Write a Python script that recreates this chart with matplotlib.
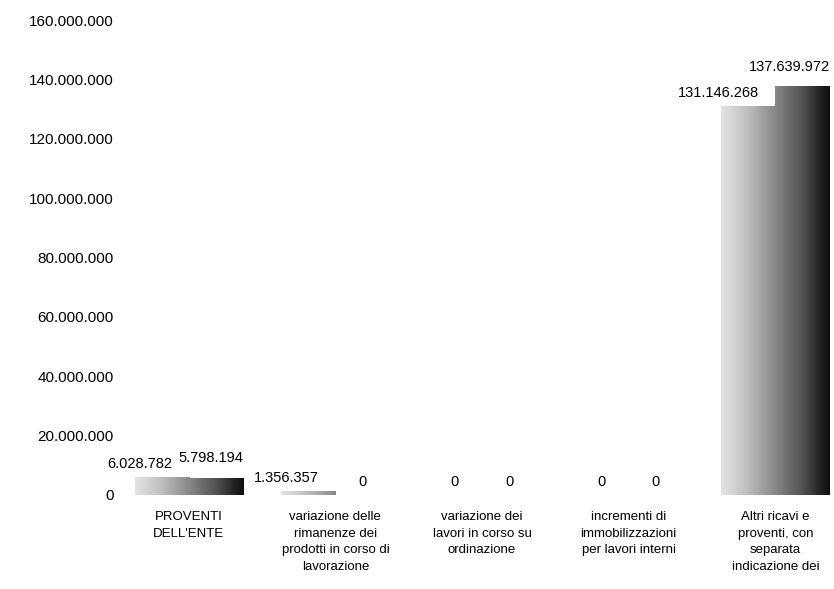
import numpy as np
import matplotlib
matplotlib.use("Agg")
import matplotlib.pyplot as plt

categories = [
    "PROVENTI\nDELL'ENTE",
    "variazione delle\nrimanenze dei\nprodotti in corso di\nlavorazione",
    "variazione dei\nlavori in corso su\nordinazione",
    "incrementi di\nimmobilizzazioni\nper lavori interni",
    "Altri ricavi e\nproventi, con\nseparata\nindicazione dei",
]
serie_a = [6028782, 1356357, 0, 0, 131146268]
serie_b = [5798194, 0, 0, 0, 137639972]
yticks = [0, 20000000, 40000000, 60000000, 80000000, 100000000, 120000000, 140000000, 160000000]


def fmt(v):
    return f"{v:,.0f}".replace(",", ".")


plt.rcParams['font.family'] = ['Liberation Sans', 'DejaVu Sans']

fig = plt.figure(figsize=(8.34, 5.89), dpi=100)
ax = fig.add_axes([0.156, 0.16, 0.844, 0.806])

x = np.arange(len(categories))
w = 0.37

bars_a = ax.bar(x - w / 2, serie_a, w, color="#b5b5b5", linewidth=0)
bars_b = ax.bar(x + w / 2, serie_b, w, color="#555555", linewidth=0)

# gradiente grigio (effetto retino della scansione)
for bars, lo, hi in ((bars_a, 0.2, 0.55), (bars_b, 0.55, 0.95)):
    for b in bars:
        if b.get_height() <= 0:
            continue
        x0, y0 = b.get_x(), b.get_y()
        grad = np.linspace(lo, hi, 64).reshape(1, -1)
        im = ax.imshow(grad, extent=[x0, x0 + b.get_width(), y0, y0 + b.get_height()],
                       cmap="Greys", vmin=0, vmax=1, aspect="auto", zorder=2)
        im.set_clip_path(b)

# etichette dei valori
fs_val = 10.5
for b, v in zip(bars_a, serie_a):
    if v == 0:
        ax.annotate(fmt(v), (b.get_x() + b.get_width() / 2, v), xytext=(0, 4),
                    textcoords="offset points", ha="center", va="bottom", fontsize=fs_val)
    else:
        ax.annotate(fmt(v), (b.get_x() + b.get_width() * 0.7, v), xytext=(0, 4),
                    textcoords="offset points", ha="right", va="bottom", fontsize=fs_val)
for b, v in zip(bars_b, serie_b):
    if v == 0:
        ax.annotate(fmt(v), (b.get_x() + b.get_width() / 2, v), xytext=(0, 4),
                    textcoords="offset points", ha="center", va="bottom", fontsize=fs_val)
    else:
        ax.annotate(fmt(v), (b.get_x() + b.get_width(), v), xytext=(0, 9),
                    textcoords="offset points", ha="right", va="bottom", fontsize=fs_val)

ax.set_xlim(-0.4, 4.4)
ax.set_ylim(0, 160000000)
ax.set_yticks(yticks)
ax.set_yticklabels([fmt(t) for t in yticks], fontsize=11, color="black")
ax.set_xticks(x)
ax.set_xticklabels(categories, fontsize=9.5, color="black", linespacing=1.5)
ax.tick_params(axis="both", length=0)
ax.tick_params(axis="y", pad=12)
ax.tick_params(axis="x", pad=12)
for s in ax.spines.values():
    s.set_visible(False)

fig.savefig("out.png", dpi=100)
